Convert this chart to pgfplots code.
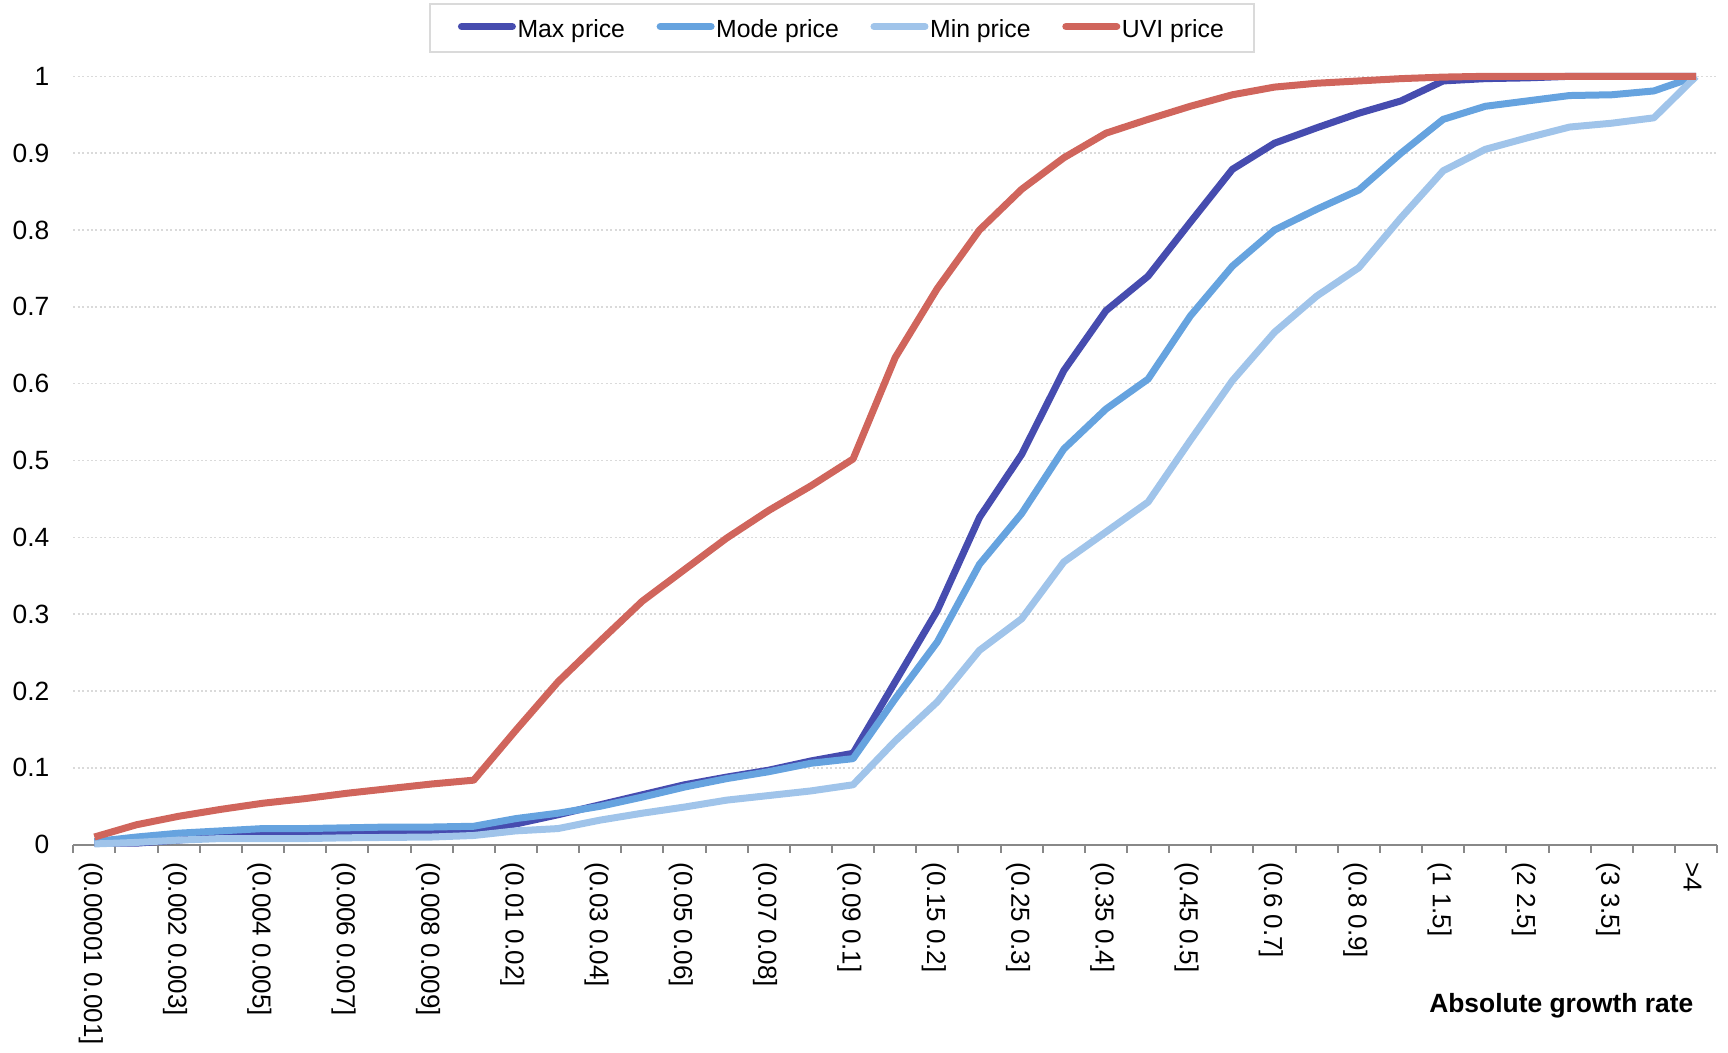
\documentclass[border=0pt]{standalone}
\usepackage{fontspec}
\setmainfont{Liberation Sans}
\usepackage{pgfplots}
\usepackage{pgfplotstable}
\pgfplotsset{compat=1.18}
\definecolor{cmax}{HTML}{464CAF}
\definecolor{cmode}{HTML}{66A3DF}
\definecolor{cmin}{HTML}{A0C4EA}
\definecolor{cuvi}{HTML}{D0655C}
\definecolor{axgray}{HTML}{888888}
\definecolor{gridgray}{HTML}{DADADA}
\newcommand{\lstrut}{\rule[-1.2pt]{0pt}{7.7pt}}

\pgfplotstableread{
i  max    mode   min    uvi
0  0.002  0.004  0.001  0.010
1  0.002  0.010  0.003  0.026
2  0.006  0.015  0.006  0.037
3  0.011  0.018  0.008  0.046
4  0.013  0.021  0.008  0.054
5  0.014  0.021  0.008  0.060
6  0.014  0.022  0.009  0.067
7  0.015  0.023  0.0095 0.073
8  0.016  0.023  0.010  0.079
9  0.018  0.024  0.012  0.084
10 0.027  0.034  0.018  0.149
11 0.039  0.041  0.021  0.212
12 0.052  0.050  0.032  0.265
13 0.065  0.062  0.041  0.317
14 0.078  0.075  0.049  0.358
15 0.088  0.086  0.058  0.399
16 0.097  0.095  0.064  0.435
17 0.109  0.106  0.070  0.467
18 0.119  0.112  0.078  0.502
19 0.212  0.190  0.135  0.634
20 0.305  0.264  0.186  0.724
21 0.426  0.365  0.253  0.800
22 0.508  0.431  0.294  0.853
23 0.617  0.515  0.368  0.894
24 0.695  0.567  0.407  0.926
25 0.740  0.606  0.446  0.944
26 0.810  0.688  0.526  0.961
27 0.879  0.753  0.604  0.976
28 0.913  0.800  0.667  0.986
29 0.933  0.827  0.714  0.991
30 0.952  0.852  0.751  0.994
31 0.968  0.900  0.816  0.997
32 0.994  0.944  0.877  0.999
33 0.997  0.961  0.905  1.000
34 0.998  0.968  0.920  1.000
35 1.000  0.975  0.934  1.000
36 1.000  0.976  0.939  1.000
37 1.000  0.981  0.946  1.000
38 1.000  1.000  1.000  1.000
}\data

\begin{document}
\begin{tikzpicture}
\useasboundingbox (-18.33pt,-51.83pt) rectangle (413.68pt,211.18pt);
\begin{axis}[
  at={(0pt,0pt)}, anchor=south west,
  scale only axis,
  width=410.96pt, height=192.1pt,
  xmin=-0.5, xmax=38.5, ymin=0, ymax=1,
  clip=false,
  axis lines*=left,
  x axis line style={draw=axgray, line width=0.6pt},
  y axis line style={draw=none},
  tick align=outside,
  major tick length=0pt,
  minor tick length=2pt,
  xtick={0,2,...,38},
  minor xtick={-0.5,0.5,...,38.5},
  xticklabels={{(0.00001 0.001]},{(0.002 0.003]},{(0.004 0.005]},{(0.006 0.007]},{(0.008 0.009]},{(0.01 0.02]},{(0.03 0.04]},{(0.05 0.06]},{(0.07 0.08]},{(0.09 0.1]},{(0.15 0.2]},{(0.25 0.3]},{(0.35 0.4]},{(0.45 0.5]},{(0.6 0.7]},{(0.8 0.9]},{(1 1.5]},{(2 2.5]},{(3 3.5]},{>4}},
  major x tick style={draw=none},
  minor x tick style={draw=axgray, line width=0.5pt},
  ytick={0,0.1,0.2,0.3,0.4,0.5,0.6,0.7,0.8,0.9,1},
  yticklabels={0,0.1,0.2,0.3,0.4,0.5,0.6,0.7,0.8,0.9,1},
  y tick style={draw=none},
  ymajorgrids,
  major y grid style={draw=gridgray, line width=0.35pt, dash pattern=on 0.5pt off 0.6pt},
  yticklabel style={font=\fontsize{6.6}{7}\selectfont, anchor=east, inner sep=0pt, xshift=-5.8pt},
  xticklabel style={font=\fontsize{6.5}{7}\selectfont, inner sep=0pt, xshift=-0.9pt, yshift=-4.3pt, rotate=-90, anchor=west},
  legend columns=4,
  legend cell align=left,
  legend image code/.code={\draw[#1, line width=1.8pt, line cap=round] (0.9pt,0.3pt) -- (13.6pt,0.3pt);},
  legend style={at={(0.2161,1.0958)}, anchor=north west, draw=gridgray, line width=0.5pt,
    font=\fontsize{6.2}{7}\selectfont, inner xsep=7.1pt, inner ysep=1.6pt,
    nodes={inner sep=0.4pt},
    /tikz/every even column/.append style={column sep=7.5pt}},
]
\addplot[cmax, line width=1.75pt, line join=round] table[x=i, y=max] {\data};
\addlegendentry{\lstrut Max price}
\addplot[cmode, line width=1.75pt, line join=round] table[x=i, y=mode] {\data};
\addlegendentry{\lstrut Mode price}
\addplot[cmin, line width=1.75pt, line join=round] table[x=i, y=min] {\data};
\addlegendentry{\lstrut Min price}
\addplot[cuvi, line width=1.75pt, line join=round] table[x=i, y=uvi] {\data};
\addlegendentry{\lstrut UVI price}
\node[anchor=base east, inner sep=0pt, font=\fontsize{6.6}{7}\selectfont\bfseries] at (rel axis cs:0.986,-0.219) {Absolute growth rate};
\end{axis}
\end{tikzpicture}
\end{document}
